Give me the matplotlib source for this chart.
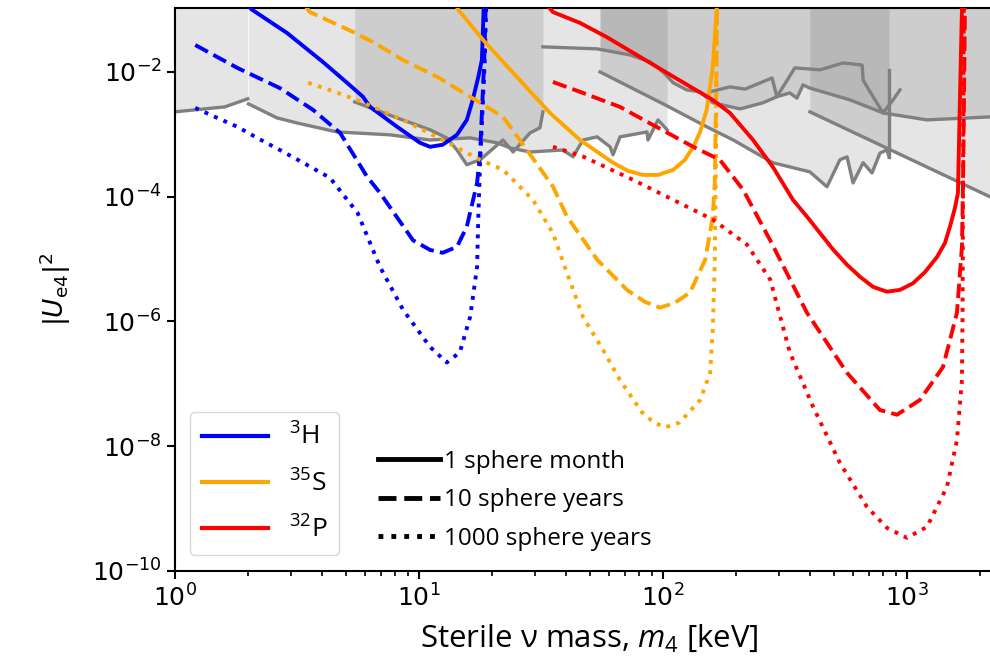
import matplotlib
matplotlib.use("Agg")
import matplotlib.pyplot as plt
from matplotlib.lines import Line2D

plt.rcParams["font.family"] = ["DejaVu Sans"]
plt.rcParams["mathtext.rm"] = "Open Sans"
plt.rcParams["mathtext.it"] = "Open Sans:italic"
plt.rcParams["mathtext.bf"] = "Open Sans:bold"
plt.rcParams["mathtext.sf"] = "Open Sans"

# ---------------- sensitivity curves (m4 in keV, |U_e4|^2) ----------------
# 3H
h3_month_m = [1.93, 2.07, 2.88, 4.04, 5.07, 5.89, 6.3, 8.13, 10.1, 11.1, 12.5, 14.3, 15.7, 16.6, 17.5, 18.1, 18.4, 18.45]
h3_month_u = [0.13, 0.099, 0.042, 0.0144, 6.7e-3, 4.0e-3, 2.75e-3, 1.32e-3, 7.3e-4, 6.3e-4, 6.8e-4, 9.8e-4, 1.7e-3, 3.56e-3, 8.3e-3, 0.0156, 0.1, 0.15]
h3_10y_m = [1.21, 1.80, 2.69, 3.68, 4.75, 6.12, 6.92, 9.45, 11.1, 12.5, 14.3, 15.7, 17.3, 17.8, 18.5, 18.8]
h3_10y_u = [0.027, 0.0116, 5.5e-3, 2.46e-3, 1.05e-3, 2.1e-4, 1.15e-4, 2.0e-5, 1.4e-5, 1.26e-5, 1.57e-5, 3.3e-5, 1.66e-4, 5.0e-4, 0.015, 0.15]
h3_1000y_m = [1.21, 1.49, 1.80, 2.17, 2.69, 3.35, 4.32, 5.6, 6.92, 8.6, 11.1, 13.0, 14.7, 16.2, 17.3, 17.5, 17.8, 18.6, 18.9]
h3_1000y_u = [2.65e-3, 1.83e-3, 1.32e-3, 8.75e-4, 5.6e-4, 3.5e-4, 2.0e-4, 5.5e-5, 7.5e-6, 1.54e-6, 3.9e-7, 2.2e-7, 3.2e-7, 1.18e-6, 7.5e-6, 4.8e-5, 3.5e-4, 0.0155, 0.15]

# 35S
s35_month_m = [14.0, 14.5, 18.3, 25.2, 34.4, 45.7, 62.4, 71.9, 82.8, 95.4, 110, 123, 133, 142, 151, 160, 166, 167]
s35_month_u = [0.13, 0.099, 0.0326, 8.3e-3, 2.2e-3, 8.1e-4, 3.5e-4, 2.59e-4, 2.23e-4, 2.23e-4, 2.69e-4, 3.9e-4, 6.3e-4, 1.09e-3, 2.46e-3, 0.012, 0.1, 0.15]
s35_10y_m = [3.45, 3.57, 5.37, 6.48, 8.6, 11.9, 16.2, 22.1, 27.7, 35.4, 40.4, 53.7, 71.2, 84.4, 97.2, 112, 129, 149, 160, 163, 165, 166.5]
s35_10y_u = [0.11, 0.091, 0.0437, 0.030, 0.0155, 8.3e-3, 4.0e-3, 1.9e-3, 5.6e-4, 1.45e-4, 4.8e-5, 9.8e-6, 3.2e-6, 2.06e-6, 1.66e-6, 2.0e-6, 2.9e-6, 9.8e-6, 4.8e-5, 1.66e-4, 3.5e-3, 0.15]
s35_1000y_m = [3.51, 4.32, 5.57, 8.6, 12.5, 17.8, 22.1, 29.3, 35.4, 40.4, 47.0, 56.8, 66.6, 82.0, 91.0, 102, 117, 142, 156, 160, 163, 165, 166.5]
s35_1000y_u = [6.7e-3, 5.1e-3, 3.55e-3, 1.7e-3, 8.1e-4, 3.9e-4, 2.7e-4, 8.9e-5, 2.6e-5, 6.0e-6, 1.18e-6, 3.5e-7, 1.15e-7, 3.5e-8, 2.45e-8, 2.0e-8, 2.4e-8, 5.5e-8, 1.5e-7, 7.4e-7, 8.7e-6, 5.6e-4, 0.15]

# 32P
p32_month_m = [34.0, 35.4, 45.7, 58.9, 94.5, 160, 188, 234, 282, 341, 389, 498, 568, 642, 726, 828, 936, 1059, 1186, 1328, 1432, 1500, 1573, 1618, 1648, 1680, 1685]
p32_month_u = [0.11, 0.091, 0.061, 0.036, 0.012, 3.55e-3, 2.2e-3, 8.1e-4, 3.0e-4, 8.9e-5, 4.8e-5, 1.42e-5, 8.1e-6, 5.2e-6, 3.58e-6, 3.0e-6, 3.2e-6, 4.1e-6, 6.2e-6, 1.08e-5, 1.82e-5, 3.3e-5, 6.6e-5, 1.15e-4, 3.55e-3, 0.1, 0.15]
p32_10y_m = [35.4, 47.0, 66.6, 88.4, 133, 171, 213, 275, 389, 568, 775, 910, 1130, 1405, 1603, 1680, 1698, 1713, 1730]
p32_10y_u = [6.9e-3, 4.6e-3, 2.75e-3, 1.5e-3, 6.3e-4, 3.9e-4, 1.29e-4, 2.0e-5, 1.38e-6, 1.5e-7, 3.8e-8, 3.2e-8, 5.5e-8, 1.86e-7, 1.38e-6, 1.58e-5, 1.86e-4, 3.55e-3, 0.15]
p32_1000y_m = [35.4, 47.0, 75.4, 117, 160, 221, 275, 331, 412, 531, 685, 828, 1000, 1208, 1459, 1603, 1680, 1690, 1698, 1710]
p32_1000y_u = [6.3e-4, 4.4e-4, 1.86e-4, 7.9e-5, 4.3e-5, 1.7e-5, 4.7e-6, 3.2e-7, 4.3e-8, 5.4e-9, 1.07e-9, 4.9e-10, 3.4e-10, 5.1e-10, 2.24e-9, 1.26e-8, 1.15e-7, 1.38e-6, 1.86e-4, 0.15]

# ---------------- existing exclusion limits ----------------
excl_a_m = [1.0, 1.60, 1.985]
excl_a_u = [2.29e-3, 2.75e-3, 3.7e-3]
excl_b_m = [2.0, 2.62, 3.16, 4.61, 7.60, 11.1, 16.2, 20.9, 23.6, 28.5, 38.9, 42.8, 47.0, 53.7, 60.7, 62.4, 66.7, 86.0, 86.8, 95.4, 104]
excl_b_u = [3.07e-3, 1.83e-3, 1.52e-3, 1.09e-3, 9.8e-4, 8.1e-4, 8.75e-4, 7.3e-4, 6.05e-4, 5.2e-4, 5.6e-4, 4.35e-4, 8.1e-4, 9.1e-4, 6.3e-4, 4.7e-4, 9.1e-4, 1.09e-3, 8.1e-4, 1.7e-3, 1.18e-3]
excl_c_m = [5.45, 8.13, 11.1, 13.0, 14.3, 15.7, 17.8, 22.1, 24.3, 28.5, 31.3, 32.2]
excl_c_u = [3.3e-3, 1.83e-3, 1.18e-3, 8.75e-4, 5.6e-4, 3.25e-4, 3.9e-4, 8.1e-4, 5.2e-4, 1.05e-3, 1.27e-3, 2.29e-3]
excl_d_m = [32.2, 53.7, 73.3, 88.4, 100, 110, 125, 142, 160, 207, 257, 293, 331, 354, 375, 400, 584, 798, 1208, 2188, 2500]
excl_d_u = [2.52e-2, 2.34e-2, 1.87e-2, 1.45e-2, 1e-2, 6.7e-3, 5.15e-3, 4.8e-3, 3.2e-3, 2.55e-3, 3.2e-3, 4.0e-3, 4.6e-3, 3.8e-3, 6.2e-3, 5.5e-3, 3.56e-3, 2.2e-3, 1.7e-3, 1.9e-3, 1.9e-3]
excl_e_m = [55.2, 104, 151, 194, 282, 400, 470, 531, 568, 601, 661, 719, 775, 828, 844]
excl_e_u = [1e-2, 2.85e-3, 1.32e-3, 8.1e-4, 3.5e-4, 2.5e-4, 1.44e-4, 3.9e-4, 4.35e-4, 1.66e-4, 3.5e-4, 2.4e-4, 5.0e-4, 5.6e-4, 4.35e-4]
excl_e_edge_u = [4.35e-4, 1.08e-2]
excl_f_m = [400, 2500]
excl_f_u = [2.29e-3, 7.8e-5]
excl_g_m = [156, 188, 217, 280, 293, 347, 440, 547, 655, 661, 726, 798, 877, 936]
excl_g_u = [4.8e-3, 5.75e-3, 5.3e-3, 8.0e-3, 4.0e-3, 1.16e-2, 1.08e-2, 1.39e-2, 1.29e-2, 7.4e-3, 4.0e-3, 2.2e-3, 3.56e-3, 5.15e-3]

isotope_labels = [r"$^{3}$H", r"$^{35}$S", r"$^{32}$P"]
isotope_colors = ["blue", "orange", "red"]
exposure_labels = ["1 sphere month", "10 sphere years", "1000 sphere years"]
exposure_styles = ["-", "--", ":"]

fig = plt.figure(figsize=(9.9, 6.63), dpi=100)
ax = fig.add_axes([0.1768, 0.1388, 0.8374, 0.8492])
ax.set_xscale("log")
ax.set_yscale("log")
ax.set_xlim(1, 2500)
ax.set_ylim(1e-10, 10 ** -0.975)

TOP = 1.0
shade = dict(color="k", alpha=0.1, linewidth=0, zorder=1)
ax.fill_between(excl_a_m, excl_a_u, TOP, **shade)
ax.fill_between(excl_b_m, excl_b_u, TOP, **shade)
ax.fill_between(excl_c_m, excl_c_u, TOP, **shade)
d_fill = [i for i, m in enumerate(excl_d_m) if m >= 53.7]
ax.fill_between([max(excl_d_m[i], 55.2) for i in d_fill], [excl_d_u[i] for i in d_fill], TOP, **shade)
ax.fill_between(excl_e_m, excl_e_u, TOP, **shade)
ax.fill_between(excl_f_m, excl_f_u, TOP, **shade)

lim = dict(color="gray", lw=2.4, zorder=2, solid_joinstyle="round")
ax.plot(excl_a_m, excl_a_u, **lim)
ax.plot(excl_b_m, excl_b_u, **lim)
ax.plot(excl_c_m, excl_c_u, **lim)
ax.plot(excl_d_m, excl_d_u, **lim)
ax.plot(excl_e_m, excl_e_u, **lim)
ax.plot([excl_e_m[-1], excl_e_m[-1]], excl_e_edge_u, **lim)
ax.plot(excl_f_m, excl_f_u, **lim)
ax.plot(excl_g_m, excl_g_u, **lim)

curves = [
    (h3_month_m, h3_month_u, 0, 0), (h3_10y_m, h3_10y_u, 0, 1), (h3_1000y_m, h3_1000y_u, 0, 2),
    (s35_month_m, s35_month_u, 1, 0), (s35_10y_m, s35_10y_u, 1, 1), (s35_1000y_m, s35_1000y_u, 1, 2),
    (p32_month_m, p32_month_u, 2, 0), (p32_10y_m, p32_10y_u, 2, 1), (p32_1000y_m, p32_1000y_u, 2, 2),
]
for m, u, ci, si in curves:
    ax.plot(m, u, color=isotope_colors[ci], ls=exposure_styles[si], lw=2.8, zorder=3,
            solid_joinstyle="round", dash_joinstyle="round")

for s in ax.spines.values():
    s.set_linewidth(1.5)
ax.tick_params(which="major", length=6, width=1.5, labelsize=18)
ax.tick_params(which="minor", length=3.5, width=1.2)

ax.set_xlabel("Sterile \u03bd mass, $m_4$ [keV]", fontsize=22.5, family="Open Sans",
              math_fontfamily="custom", labelpad=8)
ax.set_ylabel(r"$|U_{\mathrm{e4}}|^2$", fontsize=19, labelpad=14)

iso_handles = [Line2D([], [], color=c, lw=3) for c in isotope_colors]
leg1 = ax.legend(iso_handles, isotope_labels, loc="upper left", bbox_to_anchor=(0.018, 0.2824),
                 borderaxespad=0, prop={"family": "Open Sans", "size": 19}, handlelength=2.5,
                 handletextpad=0.8, labelspacing=0.72, borderpad=0.45, framealpha=0.8,
                 edgecolor="#cccccc")
for t in leg1.get_texts():
    t.set_math_fontfamily("custom")
ax.add_artist(leg1)

exp_handles = [Line2D([], [], color="k", lw=3.5, ls=s) for s in exposure_styles]
leg2 = ax.legend(exp_handles, exposure_labels, loc="upper left", bbox_to_anchor=(0.233, 0.2327),
                 borderaxespad=0, frameon=False, prop={"family": "Open Sans", "size": 17.5},
                 handlelength=2.55, handletextpad=0.15, labelspacing=0.6)

fig.savefig("out.png", dpi=100)
